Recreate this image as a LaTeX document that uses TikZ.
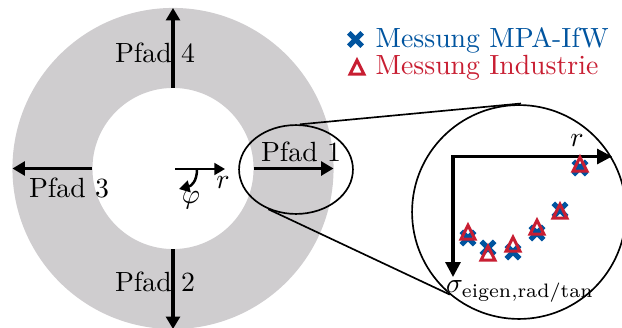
\documentclass[tikz,border=0pt]{standalone}
\usepackage{amsmath}
\usetikzlibrary{arrows.meta, shapes.geometric, calc}
\definecolor{ringGrau}{RGB}{207,205,207}
\definecolor{blauMPA}{RGB}{0,84,159}
\definecolor{rotInd}{RGB}{200,30,50}

\begin{document}
\begin{tikzpicture}[
  x=0.36pt, y=-0.36pt,
  pfeil/.style={-{Triangle[length=4.5pt, width=5pt]}, line width=1.1pt},
  pfeilklein/.style={-{Triangle[length=3.8pt, width=4.2pt]}, line width=0.9pt},
  achsen/.style={{Triangle[length=5.4pt, width=5.4pt]}-{Triangle[length=5.4pt, width=5.4pt]},
                 line width=1.1pt, line join=miter},
  rahmen/.style={draw, line width=0.6pt, inner sep=0pt},
  linie/.style={line width=0.6pt},
  beschr/.style={inner sep=0pt},
  kreuz/.pic={\draw[blauMPA, line width=1.8pt] (-2.4pt,-2.4pt) -- (2.4pt,2.4pt) (-2.4pt,2.4pt) -- (2.4pt,-2.4pt);},
  dreieck/.pic={\draw[rotInd, line width=1.1pt, line join=miter]
                (0pt,2.8pt) -- (-2.5pt,-2.2pt) -- (2.5pt,-2.2pt) -- cycle;}
]
\useasboundingbox (0,0) rectangle (622,327);

% Ring mit den vier Pfaden
\coordinate (m) at (173,168.5);
\fill[ringGrau, even odd rule] (m) circle[radius=57.8pt] (m) circle[radius=29pt];

\foreach \w/\n in {0/1, 270/2, 180/3, 90/4} {
  \coordinate (innen\n) at ($(m)+(\w:29pt)$);
  \coordinate (aussen\n) at ($(m)+(\w:57.8pt)$);
  \draw[pfeil] (innen\n) -- (aussen\n);
}

\node[beschr] (p1) at (301,152) {Pfad 1};
\node[beschr] (p2) at (155,282) {Pfad 2};
\node[beschr] (p3) at (69,188) {Pfad 3};
\node[beschr] (p4) at (155,53) {Pfad 4};

% Koordinatenrichtungen im Zentrum
\coordinate (rstart) at (175,169);
\coordinate (rende) at (225,169);
\draw[pfeilklein] (rstart) -- (rende);
\node[beschr] (rlab) at (223,182.5) {$r$};
\coordinate (phistart) at (197,169);
\coordinate (phiende) at (179,189);
\draw[pfeilklein] (phistart) .. controls (197,182) and (191,186) .. (phiende);
\node[beschr] (philab) at (191,200) {$\varphi$};

% Lupe mit Detailausschnitt
\node[rahmen, ellipse, minimum width=41pt, minimum height=32pt] (lupe) at (296,169.5) {};
\node[rahmen, circle, fill=white, minimum size=77pt] (detail) at (519,212) {};
\coordinate (endeoben) at (521,103.5);
\draw[linie] (lupe.85) -- (endeoben);
\draw[linie] (lupe.235) -- (detail.230);

\coordinate (ursprung) at (453,156.5);
\coordinate (rachse) at (612,156.5);
\coordinate (sachse) at (453,277);
\draw[achsen] (sachse) -- (ursprung) -- (rachse);
\node[beschr] (rachslab) at (577,141) {$r$};
\node[beschr] (sigmalab) at (520,291) {$\sigma_{\text{eigen,rad/tan}}$};

\foreach \x/\yk/\yd in {468/238/233, 488/248/254, 513/252/245, 537/233/228, 560/210/212, 580/168/165} {
  \pic at (\x,\yk) {kreuz};
  \pic at (\x,\yd) {dreieck};
}

% Legende
\pic at (355.5,39.5) {kreuz};
\node[beschr, anchor=west, text=blauMPA] (legmpa) at (375,40) {Messung MPA-IfW};
\pic at (357,68) {dreieck};
\node[beschr, anchor=west, text=rotInd] (legind) at (375,68) {Messung Industrie};

\end{tikzpicture}
\end{document}
